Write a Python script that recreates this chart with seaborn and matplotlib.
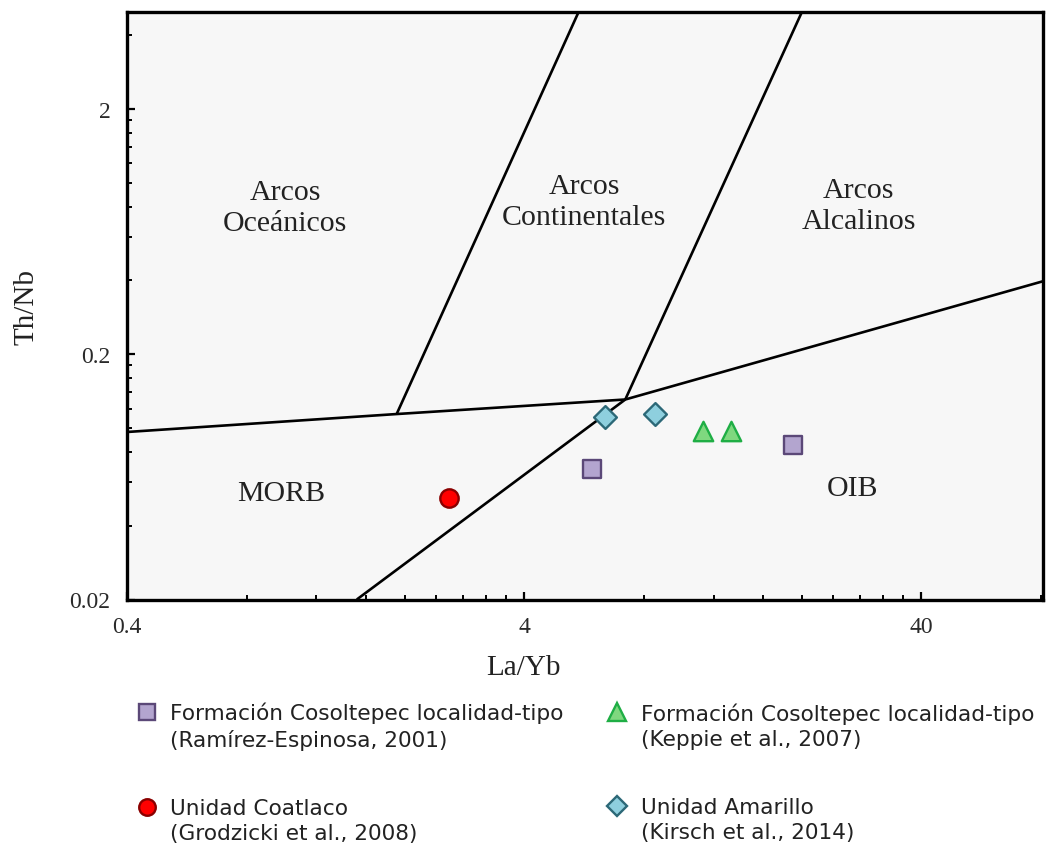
import numpy as np
import pandas as pd
import matplotlib
matplotlib.use("Agg")
import matplotlib.pyplot as plt
from matplotlib.lines import Line2D
from matplotlib.legend_handler import HandlerLine2D
from matplotlib.ticker import FixedLocator, NullFormatter
import seaborn as sns

# --- sample data (La/Yb vs Th/Nb) ---
ramirez_layb = [5.94, 19.0]
ramirez_thnb = [0.0681, 0.0853]

keppie_layb = [11.3, 13.3]
keppie_thnb = [0.0973, 0.0973]

grodzicki_layb = [2.59]
grodzicki_thnb = [0.0519]

kirsch_layb = [6.40, 8.55]
kirsch_thnb = [0.111, 0.1141]

series_labels = [
    "Formación Cosoltepec localidad-tipo\n(Ramírez-Espinosa, 2001)",
    "Unidad Coatlaco\n(Grodzicki et al., 2008)",
    "Formación Cosoltepec localidad-tipo\n(Keppie et al., 2007)",
    "Unidad Amarillo\n(Kirsch et al., 2014)",
]

# --- discrimination field boundaries ---
lower_bound_x = [0.4, 1.91, 7.19, 81.0]
lower_bound_y = [0.0964, 0.1141, 0.1308, 0.397]
ocean_cont_x = [1.91, 5.48]
ocean_cont_y = [0.1141, 4.96]
cont_alk_x = [7.19, 20.0]
cont_alk_y = [0.1308, 4.96]
morb_oib_x = [1.516, 7.19]
morb_oib_y = [0.02, 0.1308]

field_names = ["Arcos\nOceánicos", "Arcos\nContinentales", "Arcos\nAlcalinos", "MORB", "OIB"]
field_x = [1.0, 5.66, 27.8, 0.98, 26.8]
field_y = [0.79, 0.836, 0.81, 0.0543, 0.057]

x_ticks = [0.4, 4, 40]
y_ticks = [0.02, 0.2, 2]
x_tick_labels = ["0.4", "4", "40"]
y_tick_labels = ["0.02", "0.2", "2"]
xlim = (0.4, 81.0)
ylim = (0.02, 4.96)

sns.set_style("white")
plt.rcParams["font.family"] = ["DejaVu Sans"]

serif = ["Liberation Serif", "DejaVu Serif"]

fig = plt.figure(figsize=(10.47, 8.45), dpi=100)
ax = fig.add_axes([127 / 1047, 1 - 600.5 / 845, 916 / 1047, 587.2 / 845])
ax.set_facecolor("#f7f7f7")

ax.set_xscale("log")
ax.set_yscale("log")

# field boundaries
line_kw = dict(color="black", lw=1.9, solid_capstyle="butt", zorder=2)
ax.plot(lower_bound_x, lower_bound_y, **line_kw)
ax.plot(ocean_cont_x, ocean_cont_y, **line_kw)
ax.plot(cont_alk_x, cont_alk_y, **line_kw)
ax.plot(morb_oib_x, morb_oib_y, **line_kw)

# samples
styles = [
    (ramirez_layb, ramirez_thnb, "s", "#b3a5cf", "#5b4878", 165),
    (grodzicki_layb, grodzicki_thnb, "o", "#ff0000", "#8a0000", 175),
    (keppie_layb, keppie_thnb, "^", "#7fd87f", "#1fae45", 195),
    (kirsch_layb, kirsch_thnb, "D", "#8ecfde", "#2c6877", 135),
]
for (xs, ys, mk, fc, ec, s) in styles:
    df = pd.DataFrame({"La/Yb": xs, "Th/Nb": ys})
    sns.scatterplot(data=df, x="La/Yb", y="Th/Nb", marker=mk, s=s, color=fc,
                    edgecolor=ec, linewidth=1.7, ax=ax, zorder=3, legend=False)

ax.set_xlim(*xlim)
ax.set_ylim(*ylim)

# ticks
ax.xaxis.set_major_locator(FixedLocator(x_ticks))
ax.yaxis.set_major_locator(FixedLocator(y_ticks))
ax.set_xticklabels(x_tick_labels, family=serif, fontsize=17)
ax.set_yticklabels(y_tick_labels, family=serif, fontsize=17)
x_minor = [b * k for b in (0.4, 4, 40) for k in range(2, 10) if b * k <= xlim[1]]
y_minor = [b * k for b in (0.02, 0.2, 2) for k in range(2, 10) if b * k <= ylim[1]]
ax.xaxis.set_minor_locator(FixedLocator(x_minor))
ax.yaxis.set_minor_locator(FixedLocator(y_minor))
ax.xaxis.set_minor_formatter(NullFormatter())
ax.yaxis.set_minor_formatter(NullFormatter())
ax.tick_params(which="both", direction="in", color="black", top=False, right=False,
               bottom=True, left=True)
ax.tick_params(which="major", length=6, width=1.6, pad=12, labelcolor="#2a2a2a")
ax.tick_params(which="minor", length=3.5, width=1.4)

for sp in ax.spines.values():
    sp.set_linewidth(2.4)
    sp.set_color("black")

ax.set_xlabel("La/Yb", family=serif, fontsize=21, color="#222222")
ax.set_ylabel("Th/Nb", family=serif, fontsize=21, color="#222222")
ax.xaxis.set_label_coords(0.433, -0.092)
ax.yaxis.set_label_coords(-0.095, 0.5)

# field names
for name, fx, fy in zip(field_names, field_x, field_y):
    ax.text(fx, fy, name, ha="center", va="center", family=serif, fontsize=21.5,
            linespacing=1.25, color="#222222", zorder=4)


class RaisedMarkerHandler(HandlerLine2D):
    """Place the legend marker level with the first line of a two-line label."""

    def __init__(self, shift, **kw):
        super().__init__(**kw)
        self.shift = shift

    def create_artists(self, legend, orig_handle, xdescent, ydescent, width,
                       height, fontsize, trans):
        return super().create_artists(legend, orig_handle, xdescent,
                                      ydescent - 2 * self.shift, width, height,
                                      fontsize, trans)


handles = []
for (xs, ys, mk, fc, ec, s) in styles:
    handles.append(Line2D([], [], linestyle="none", marker=mk, markersize=np.sqrt(s) * 0.9,
                          markerfacecolor=fc, markeredgecolor=ec, markeredgewidth=1.7))

handler = RaisedMarkerHandler(shift=10)
leg = fig.legend(handles, series_labels, ncol=2, loc="upper left",
                 bbox_to_anchor=(136 / 1047, 1 - 703 / 845), frameon=False,
                 fontsize=15.6, handlelength=1.0, handletextpad=0.58,
                 columnspacing=1.97, labelspacing=2.2, borderpad=0, borderaxespad=0,
                 handler_map={h: handler for h in handles})
for t in leg.get_texts():
    t.set_linespacing(1.32)
    t.set_color("#222222")

fig.savefig("out.png", dpi=100, facecolor="white")
